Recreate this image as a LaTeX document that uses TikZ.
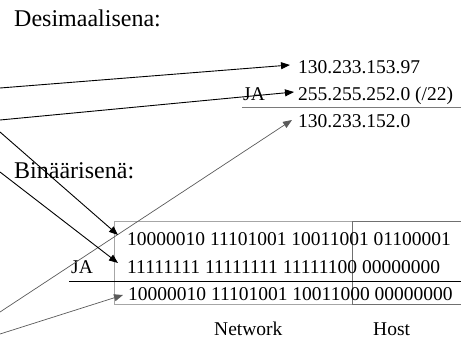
\documentclass[tikz,border=0pt]{standalone}
\usepackage{fontspec}
\setmainfont{Liberation Serif}
\usetikzlibrary{arrows.meta}
\definecolor{netgray}{HTML}{A6A6A6}
\definecolor{hostgray}{HTML}{707070}
\definecolor{rulegray}{HTML}{7A7A7A}
\definecolor{arrgray}{HTML}{5A5A5A}
\begin{document}
\begin{tikzpicture}[x=1pt,y=-1pt,
  heading/.style={anchor=base west,inner sep=0pt,font=\fontsize{24}{28}\selectfont},
  txt/.style={anchor=base west,inner sep=0pt,font=\fontsize{19.5}{22}\selectfont},
  blackarrow/.style={draw=black,line width=0.9pt,-{Triangle[length=9pt,width=7pt]}},
  grayarrow/.style={draw=arrgray,line width=0.7pt,-{Triangle[length=9pt,width=7pt]}}]
\useasboundingbox (0,0) rectangle (461,338);
% headings
\node[heading] (hdec) at (14,26) {Desimaalisena:};
\node[heading] (hbin) at (14,178) {Binäärisenä:};
% decimal part
\node[txt] (d1) at (298,73) {130.233.153.97};
\node[txt] (d2) at (298,100) {255.255.252.0 (/22)};
\node[txt] (dja) at (243,100) {JA};
\node[txt] (d3) at (298,127) {130.233.152.0};
\coordinate (drl) at (242,107);
\coordinate (drr) at (461,107);
\draw[rulegray,line width=0.9pt] (drl) -- (drr);
% binary boxes
\coordinate (nb1) at (114,221);
\coordinate (nb2) at (352,304);
\draw[netgray,line width=0.9pt] (nb1) rectangle (nb2);
\coordinate (hb1) at (461,221);
\coordinate (hb2) at (352,221);
\coordinate (hb3) at (352,304);
\coordinate (hb4) at (461,304);
\draw[hostgray,line width=0.9pt] (hb1) -- (hb2) -- (hb3) -- (hb4);
% binary rows
\node[txt] (b1) at (127,245) {10000010 11101001 10011001 01100001};
\node[txt] (b2) at (127,273) {11111111 11111111 11111100 00000000};
\node[txt] (bja) at (71,273) {JA};
\node[txt] (b3) at (128,300) {10000010 11101001 10011000 00000000};
\coordinate (brl) at (69,281);
\coordinate (brr) at (461,281);
\draw[black,line width=0.8pt] (brl) -- (brr);
% labels
\node[txt] (lnet) at (214,335) {Network};
\node[txt] (lhost) at (373,335) {Host};
% arrows
\coordinate (s1) at (0,88);   \coordinate (t1) at (290,65);
\coordinate (s2) at (0,120);  \coordinate (t2) at (294,92);
\coordinate (s3) at (0,312);  \coordinate (t3) at (292,120);
\coordinate (s4) at (0,334);  \coordinate (t4) at (123,295);
\coordinate (s5) at (0,132);  \coordinate (t5) at (118,235);
\coordinate (s6) at (0,172);  \coordinate (t6) at (118,263);
\draw[blackarrow] (s1) -- (t1);
\draw[blackarrow] (s2) -- (t2);
\draw[grayarrow] (s3) -- (t3);
\draw[grayarrow] (s4) -- (t4);
\draw[blackarrow] (s5) -- (t5);
\draw[blackarrow] (s6) -- (t6);
\end{tikzpicture}
\end{document}
